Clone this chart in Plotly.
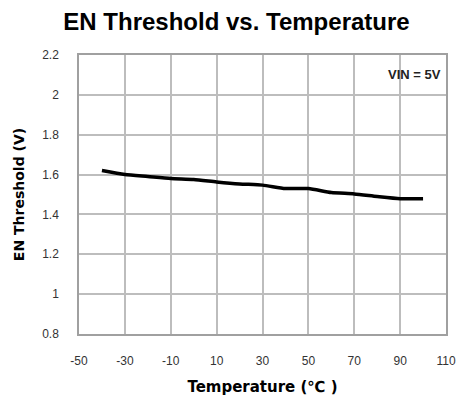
import plotly.graph_objects as go

temps = [-40, -30, -20, -10, 0, 10, 20, 30, 40, 50, 60, 70, 80, 90, 100]
en_threshold = [1.62, 1.60, 1.59, 1.58, 1.575, 1.563, 1.553, 1.547, 1.53, 1.53, 1.51, 1.503, 1.49, 1.479, 1.479]
x_ticks = [-50, -30, -10, 10, 30, 50, 70, 90, 110]
x_labels = ["-50", "-30", "-10", "10", "30", "50", "70", "90", "110"]
y_ticks = [0.8, 1, 1.2, 1.4, 1.6, 1.8, 2, 2.2]
y_labels = ["0.8", "1", "1.2", "1.4", "1.6", "1.8", "2", "2.2"]

fig = go.Figure()
fig.add_trace(go.Scatter(x=temps, y=en_threshold, mode="lines",
                         line=dict(color="black", width=3.5, shape="spline", smoothing=0.6),
                         showlegend=False))

tickfont = dict(family="Liberation Sans", size=12, color="#333333")
axis_common = dict(showgrid=True, gridcolor="#bdbdbd", gridwidth=1.5,
                   showline=True, linecolor="#a0a0a0", linewidth=1.5, mirror=True,
                   zeroline=False, ticks="", tickfont=tickfont, automargin=False,
                   ticklabeloverflow="allow")

fig.update_xaxes(range=[-50, 110], tickvals=x_ticks, ticktext=x_labels, ticklabelstandoff=15, **axis_common,
                 title=dict(text="<b>Temperature (℃ )</b>", font=dict(family="DejaVu Sans", size=15, color="black"), standoff=14))
fig.update_yaxes(range=[0.8, 2.2], tickvals=y_ticks, ticktext=y_labels, ticklabelstandoff=16, **axis_common,
                 title=dict(text="<b>EN Threshold (V)</b>", font=dict(family="DejaVu Sans", size=14, color="black"), standoff=14))

fig.add_annotation(x=1, y=1, xref="paper", yref="paper", xanchor="right", yanchor="middle",
                   xshift=-3, yshift=-19, text="<b>VIN = 5V</b>", showarrow=False,
                   font=dict(family="Liberation Sans Narrow, Liberation Sans", size=13, color="#222222"))

fig.update_layout(
    width=457, height=397,
    margin=dict(l=71, r=19, t=47, b=71),
    paper_bgcolor="white", plot_bgcolor="white",
    title=dict(text="<b>EN Threshold vs. Temperature</b>", x=0.5, xanchor="center", y=0.967, yanchor="middle",
               font=dict(family="Liberation Sans", size=24, color="black")),
)

fig.write_html("out.html")
